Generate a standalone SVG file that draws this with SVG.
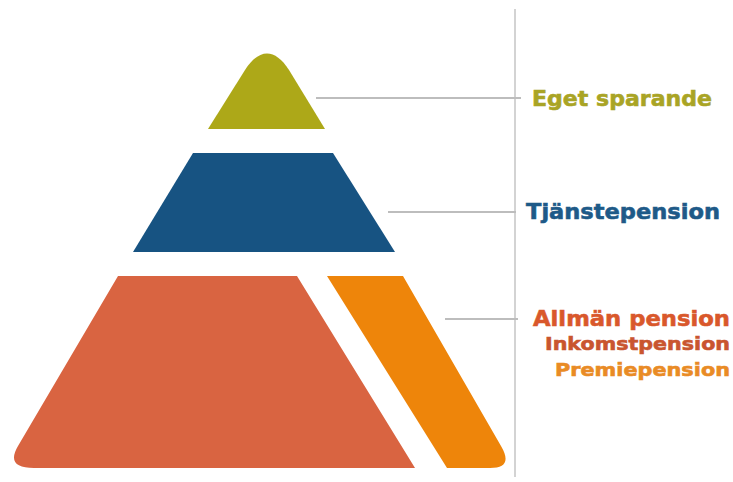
<svg xmlns="http://www.w3.org/2000/svg" width="733" height="482" viewBox="0 0 733 482">
  <style>
    .lbl { font-family: "DejaVu Sans", Verdana, "Liberation Sans", sans-serif; font-weight: bold; stroke-width: 0.6; }
    .conn { stroke: #BDBDBD; stroke-width: 2; fill: none; }
    .axis { stroke: #C4C4C4; stroke-width: 1.5; fill: none; }
  </style>
  <rect width="733" height="482" fill="#FFFFFF"/>
  <g id="connectors">
    <line class="axis" x1="515" y1="9" x2="515" y2="477"/>
    <line class="conn" x1="316" y1="98" x2="521" y2="98"/>
    <line class="conn" x1="388" y1="212" x2="516" y2="212"/>
    <line class="conn" x1="445" y1="319" x2="518" y2="319"/>
  </g>
  <g id="eget-sparande">
    <path d="M208,129 L245,70 C259,48 275,48 289,70 L325,129 Z" fill="#ADA818"/>
    <text class="lbl" x="532" y="106" font-size="22" fill="#A9A425" stroke="#A9A425" textLength="180" lengthAdjust="spacingAndGlyphs">Eget sparande</text>
  </g>
  <g id="tjanstepension">
    <path d="M193,153 L333,153 L395,252 L133,252 Z" fill="#175382"/>
    <text class="lbl" x="526" y="219" font-size="22" fill="#1E5A88" stroke="#1E5A88" textLength="194" lengthAdjust="spacingAndGlyphs">Tjänstepension</text>
  </g>
  <g id="allman-pension">
    <path d="M118,276 L297,276 L415,468 L34,468 Q5,468 18,446 Z" fill="#D96441"/>
    <text class="lbl" x="533" y="326" font-size="22" fill="#D9582B" stroke="#D9582B" textLength="197" lengthAdjust="spacingAndGlyphs">Allmän pension</text>
  </g>
  <g id="inkomstpension">
    <text class="lbl" x="545" y="350" font-size="18.5" fill="#C9552F" stroke="#C9552F" textLength="185" lengthAdjust="spacingAndGlyphs">Inkomstpension</text>
  </g>
  <g id="premiepension">
    <path d="M327,276 L403,276 L501,446 Q514,468 490,468 L447,468 Z" fill="#EE850A"/>
    <text class="lbl" x="555" y="376" font-size="18.5" fill="#E98B25" stroke="#E98B25" textLength="175" lengthAdjust="spacingAndGlyphs">Premiepension</text>
  </g>
</svg>
